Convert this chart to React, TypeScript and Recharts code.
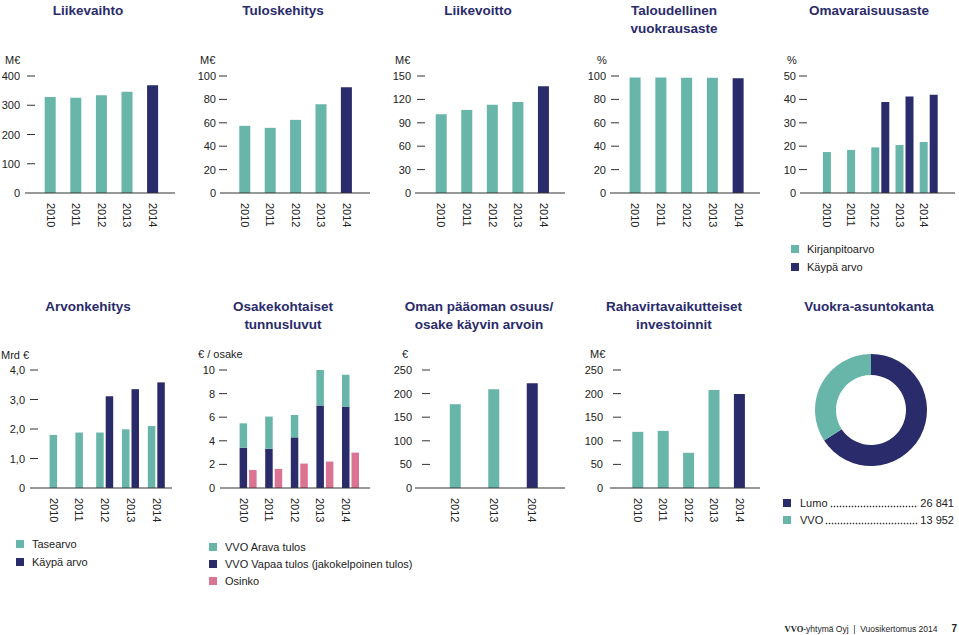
import React from "react";
import { BarChart, Bar, XAxis, YAxis, Cell, PieChart, Pie } from "recharts";

const TEAL = "#68b5a9";
const NAVY = "#2a2b6b";
const PINK = "#db7393";
const INK = "#222222";
const FONT = "'Liberation Sans', Arial, sans-serif";

// values
const years = ["2010", "2011", "2012", "2013", "2014"];
const liikevaihto = [328, 326, 334, 346, 368];
const tuloskehitys = [57.4, 55.7, 62.5, 75.9, 90.4];
const liikevoitto = [101, 106.5, 113.3, 116.8, 136.8];
const vuokrausaste = [98.7, 98.7, 98.6, 98.5, 98.0];
const omavKirjanpito = [17.5, 18.4, 19.5, 20.5, 21.8];
const omavKaypa = [null, null, 38.9, 41.2, 42.0];
const arvoTase = [1.8, 1.88, 1.88, 1.99, 2.1];
const arvoKaypa = [null, null, 3.11, 3.35, 3.58];
const aravaTulos = [2.07, 2.73, 1.9, 3.0, 2.7];
const vapaaTulos = [3.41, 3.32, 4.29, 7.0, 6.9];
const osinko = [1.53, 1.62, 2.07, 2.24, 3.0];
const opYears = ["2012", "2013", "2014"];
const omaPaaoma = [177.5, 209, 222];
const investoinnit = [119, 121, 74.6, 207.7, 199.2];
const asuntoNames = ["Lumo", "VVO"];
const asuntoCounts = [26841, 13952];

const single = (vals: number[], cats: string[] = years) =>
  cats.map((year, i) => ({ year, value: vals[i] }));

const lastNavy = (n: number) =>
  Array.from({ length: n }, (_, i) => (
    <Cell key={i} fill={i === n - 1 ? NAVY : TEAL} />
  ));

type PanelProps = {
  plotL: number;
  plotR: number;
  plotT: number;
  plotB: number;
  padL: number;
  padR: number;
  dash: number;
  labelEnd: number;
  domain: [number, number];
  ticks: number[];
  fmt?: (v: number) => string;
  labelDx?: number;
  data: any[];
  soloAxis?: boolean;
  children: React.ReactNode;
};

function Panel(p: PanelProps) {
  const width = p.plotR - p.plotL + 35;
  const height = p.plotB - p.plotT + 53;
  const dashOff = p.dash - p.plotL;
  const labOff = p.labelEnd - p.plotL;
  const yTick = (t: any) => {
    const v = t.payload.value;
    return (
      <g>
        <text
          x={t.x + labOff}
          y={t.y}
          textAnchor="end"
          dominantBaseline="central"
          fontSize={11}
          fill={INK}
          fontFamily={FONT}
        >
          {p.fmt ? p.fmt(v) : v}
        </text>
        {v !== 0 && (
          <line x1={t.x + dashOff} x2={t.x + dashOff + 8} y1={t.y} y2={t.y} stroke="#333" />
        )}
      </g>
    );
  };
  const xTick = (t: any) => (
    <text
      transform={`translate(${t.x + (p.labelDx || 0)},${t.y + 10}) rotate(90)`}
      textAnchor="start"
      dominantBaseline="central"
      fontSize={11}
      fill={INK}
      fontFamily={FONT}
    >
      {t.payload.value}
    </text>
  );
  return (
    <div style={{ position: "absolute", left: p.plotL - 30, top: p.plotT - 8 }}>
      <BarChart
        width={width}
        height={height}
        data={p.data}
        margin={{ top: 8, right: 5, bottom: 5, left: 0 }}
        barGap={2}
      >
        <XAxis
          dataKey="year"
          height={40}
          padding={{ left: p.padL, right: p.padR }}
          axisLine={{ stroke: "#333" }}
          tickLine={false}
          tickSize={0}
          tickMargin={0}
          interval={0}
          tick={xTick}
        />
        {p.soloAxis && (
          <XAxis xAxisId="solo" dataKey="year" hide padding={{ left: p.padL, right: p.padR }} />
        )}
        <YAxis
          width={30}
          domain={p.domain}
          ticks={p.ticks}
          axisLine={false}
          tickLine={false}
          tickSize={0}
          tickMargin={0}
          interval={0}
          tick={yTick}
        />
        {p.children}
      </BarChart>
    </div>
  );
}

function Title({ cx, y, lines }: { cx: number; y: number; lines: string[] }) {
  return (
    <div
      style={{
        position: "absolute",
        left: cx - 100,
        top: y - 9,
        width: 200,
        textAlign: "center",
        fontFamily: FONT,
        fontWeight: 700,
        fontSize: 13.5,
        lineHeight: "18px",
        color: NAVY,
      }}
    >
      {lines.map((l) => (
        <div key={l}>{l}</div>
      ))}
    </div>
  );
}

function Unit({ x, y, text }: { x: number; y: number; text: string }) {
  return (
    <div
      style={{
        position: "absolute",
        left: x,
        top: y - 7,
        fontFamily: FONT,
        fontSize: 11,
        lineHeight: "14px",
        color: INK,
        whiteSpace: "nowrap",
      }}
    >
      {text}
    </div>
  );
}

function Key({ x, y, color, text }: { x: number; y: number; color: string; text: string }) {
  return (
    <div
      style={{
        position: "absolute",
        left: x,
        top: y - 7,
        height: 14,
        display: "flex",
        alignItems: "center",
        fontFamily: FONT,
        fontSize: 11,
        color: INK,
        whiteSpace: "nowrap",
      }}
    >
      <span style={{ width: 8, height: 8, background: color, marginRight: 8 }} />
      {text}
    </div>
  );
}

function LeaderKey({ y, color, name, value }: { y: number; color: string; name: string; value: number }) {
  const txt = value.toLocaleString("fi-FI").replace(/\s/g, " ");
  return (
    <div
      style={{
        position: "absolute",
        left: 783,
        top: y - 7,
        width: 171,
        height: 14,
        display: "flex",
        alignItems: "center",
        fontFamily: FONT,
        fontSize: 11,
        color: INK,
        whiteSpace: "nowrap",
      }}
    >
      <span style={{ width: 8, height: 8, background: color, marginRight: 9, flex: "none" }} />
      <span style={{ flex: "none" }}>{name}</span>
      <span
        style={{
          flex: "1 1 0",
          minWidth: 0,
          height: 3,
          margin: "6px 2px 0 2px",
          backgroundImage: "radial-gradient(circle, #333 0.7px, transparent 1.1px)",
          backgroundSize: "3px 3px",
          backgroundRepeat: "repeat-x",
        }}
      />
      <span style={{ flex: "none" }}>{txt}</span>
    </div>
  );
}

export default function App() {
  const omavData = years.map((year, i) => ({
    year,
    kirjanpito: omavKirjanpito[i],
    kaypa: omavKaypa[i],
  }));
  const arvoData = years.map((year, i) => ({
    year,
    tase: arvoKaypa[i] == null ? null : arvoTase[i],
    taseSolo: arvoKaypa[i] == null ? arvoTase[i] : null,
    kaypa: arvoKaypa[i],
  }));
  const osakeData = years.map((year, i) => ({
    year,
    vapaa: vapaaTulos[i],
    arava: aravaTulos[i],
    osinko: osinko[i],
  }));
  const asunnot = asuntoNames.map((name, i) => ({ name, count: asuntoCounts[i] }));
  const mrd = (v: number) => (v === 0 ? "0" : v.toFixed(1).replace(".", ","));

  return (
    <div
      style={{
        position: "absolute",
        left: 0,
        top: 0,
        width: 959,
        height: 635,
        background: "#fff",
        overflow: "hidden",
        fontFamily: FONT,
      }}
    >
      <Title cx={88} y={11} lines={["Liikevaihto"]} />
      <Title cx={283} y={11} lines={["Tuloskehitys"]} />
      <Title cx={478} y={11} lines={["Liikevoitto"]} />
      <Title cx={674} y={11} lines={["Taloudellinen", "vuokrausaste"]} />
      <Title cx={869} y={11} lines={["Omavaraisuusaste"]} />
      <Title cx={88} y={307} lines={["Arvonkehitys"]} />
      <Title cx={283} y={307} lines={["Osakekohtaiset", "tunnusluvut"]} />
      <Title cx={479} y={307} lines={["Oman pääoman osuus/", "osake käyvin arvoin"]} />
      <Title cx={674} y={307} lines={["Rahavirtavaikutteiset", "investoinnit"]} />
      <Title cx={869} y={307} lines={["Vuokra-asuntokanta"]} />

      <Unit x={5} y={60} text="M€" />
      <Unit x={200} y={60} text="M€" />
      <Unit x={395} y={60} text="M€" />
      <Unit x={597} y={60} text="%" />
      <Unit x={787} y={60} text="%" />
      <Unit x={1} y={355} text="Mrd €" />
      <Unit x={198} y={354} text="€ / osake" />
      <Unit x={402} y={354} text="€" />
      <Unit x={590} y={354} text="M€" />

      <Panel plotL={25} plotR={175} plotT={76} plotB={193} padL={12.7} padR={9.3} dash={27} labelEnd={20}
        domain={[0, 400]} ticks={[0, 100, 200, 300, 400]} data={single(liikevaihto)}>
        <Bar dataKey="value" barSize={11} isAnimationActive={false}>{lastNavy(5)}</Bar>
      </Panel>
      <Panel plotL={220} plotR={370} plotT={76} plotB={193} padL={12.3} padR={10.7} dash={219} labelEnd={216}
        domain={[0, 100]} ticks={[0, 20, 40, 60, 80, 100]} data={single(tuloskehitys)}>
        <Bar dataKey="value" barSize={11} isAnimationActive={false}>{lastNavy(5)}</Bar>
      </Panel>
      <Panel plotL={415} plotR={565} plotT={76} plotB={193} padL={13.7} padR={8.5} dash={417} labelEnd={411}
        domain={[0, 150]} ticks={[0, 30, 60, 90, 120, 150]} data={single(liikevoitto)}>
        <Bar dataKey="value" barSize={11} isAnimationActive={false}>{lastNavy(5)}</Bar>
      </Panel>
      <Panel plotL={610} plotR={760} plotT={76} plotB={193} padL={12.6} padR={8.6} dash={611} labelEnd={606}
        domain={[0, 100]} ticks={[0, 20, 40, 60, 80, 100]} data={single(vuokrausaste)}>
        <Bar dataKey="value" barSize={11} isAnimationActive={false}>{lastNavy(5)}</Bar>
      </Panel>
      <Panel plotL={800} plotR={955} plotT={76} plotB={193} padL={19.9} padR={14.1} dash={799} labelEnd={796}
        domain={[0, 50]} ticks={[0, 10, 20, 30, 40, 50]} data={omavData} labelDx={-5}>
        <Bar dataKey="kirjanpito" fill={TEAL} barSize={8} isAnimationActive={false} />
        <Bar dataKey="kaypa" fill={NAVY} barSize={8} isAnimationActive={false} />
      </Panel>

      <Panel plotL={30} plotR={172} plotT={370} plotB={488} padL={10.6} padR={2.4} dash={30} labelEnd={25}
        domain={[0, 4]} ticks={[0, 1, 2, 3, 4]} fmt={mrd} data={arvoData} soloAxis>
        <Bar xAxisId="solo" dataKey="taseSolo" fill={TEAL} barSize={7.5} isAnimationActive={false} />
        <Bar dataKey="tase" fill={TEAL} barSize={7.5} isAnimationActive={false} />
        <Bar dataKey="kaypa" fill={NAVY} barSize={7.5} isAnimationActive={false} />
      </Panel>
      <Panel plotL={220} plotR={370} plotT={370} plotB={488} padL={15.6} padR={6.4} dash={219} labelEnd={215}
        domain={[0, 10]} ticks={[0, 2, 4, 6, 8, 10]} data={osakeData} labelDx={-4.75}>
        <Bar dataKey="vapaa" stackId="s" fill={NAVY} barSize={7.5} isAnimationActive={false} />
        <Bar dataKey="arava" stackId="s" fill={TEAL} barSize={7.5} isAnimationActive={false} />
        <Bar dataKey="osinko" fill={PINK} barSize={7.5} isAnimationActive={false} />
      </Panel>
      <Panel plotL={415} plotR={565} plotT={370} plotB={488} padL={20.75} padR={13.75} dash={422} labelEnd={412}
        domain={[0, 250]} ticks={[0, 50, 100, 150, 200, 250]} data={single(omaPaaoma, opYears)}>
        <Bar dataKey="value" barSize={11} isAnimationActive={false}>{lastNavy(3)}</Bar>
      </Panel>
      <Panel plotL={610} plotR={760} plotT={370} plotB={488} padL={15.3} padR={7.7} dash={613} labelEnd={603}
        domain={[0, 250]} ticks={[0, 50, 100, 150, 200, 250]} data={single(investoinnit)}>
        <Bar dataKey="value" barSize={11} isAnimationActive={false}>{lastNavy(5)}</Bar>
      </Panel>

      <div style={{ position: "absolute", left: 806, top: 345 }}>
        <PieChart width={130} height={130} margin={{ top: 0, right: 0, bottom: 0, left: 0 }}>
          <Pie
            data={asunnot}
            dataKey="count"
            nameKey="name"
            cx={65}
            cy={65}
            innerRadius={35}
            outerRadius={56}
            startAngle={90}
            endAngle={-270}
            stroke="none"
            isAnimationActive={false}
          >
            <Cell fill={NAVY} />
            <Cell fill={TEAL} />
          </Pie>
        </PieChart>
      </div>

      <Key x={791} y={249} color={TEAL} text="Kirjanpitoarvo" />
      <Key x={791} y={267} color={NAVY} text="Käypä arvo" />
      <Key x={16} y={544} color={TEAL} text="Tasearvo" />
      <Key x={16} y={562} color={NAVY} text="Käypä arvo" />
      <Key x={209} y={547} color={TEAL} text="VVO Arava tulos" />
      <Key x={209} y={564} color={NAVY} text="VVO Vapaa tulos (jakokelpoinen tulos)" />
      <Key x={209} y={581} color={PINK} text="Osinko" />
      <LeaderKey y={503} color={NAVY} name="Lumo" value={asuntoCounts[0]} />
      <LeaderKey y={520} color={TEAL} name="VVO" value={asuntoCounts[1]} />

      <div
        style={{
          position: "absolute",
          right: 959 - 957,
          top: 623,
          fontFamily: FONT,
          fontSize: 8.5,
          lineHeight: "12px",
          color: INK,
          whiteSpace: "nowrap",
        }}
      >
        <span style={{ fontFamily: "'Liberation Serif', serif", fontWeight: 700 }}>VVO</span>
        -yhtymä Oyj&nbsp;&nbsp;|&nbsp;&nbsp;Vuosikertomus 2014
        <span style={{ fontWeight: 700, fontSize: 10, marginLeft: 14 }}>7</span>
      </div>
    </div>
  );
}
